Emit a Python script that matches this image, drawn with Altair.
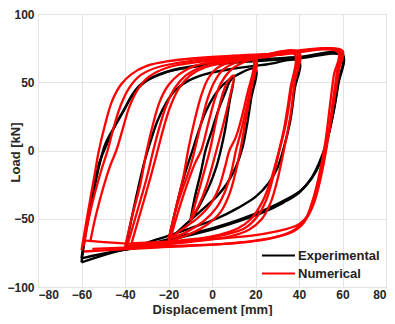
import altair as alt
import pandas as pd

# ---------- data (x = displacement mm, y = load kN) ----------
# Numerical (red) loops, each cycle: ascending branch then descending branch
NUM_60 = [
    [(-60, -73), (-57, -45), (-54, -18), (-52, 0), (-49, 20), (-46, 36), (-42, 48), (-37, 56), (-30, 62),
     (-20, 65.5), (0, 68.5), (30, 71), (60, 73),
     (58.5, 60), (57, 45), (55, 25), (53, 5), (50, -20), (47, -38), (44, -48), (40, -54), (33, -58),
     (20, -62), (0, -65), (-30, -68.5), (-58, -66)],
    [(-59, -70), (-56, -45), (-51, -15), (-48, 0), (-45, 18), (-42, 33), (-38, 46), (-33, 55), (-25, 61),
     (-10, 65.5), (20, 69.5), (59, 72.5),
     (57.5, 58), (55.5, 35), (53.5, 12), (51, -10), (48, -30), (45, -45), (41, -55), (35, -61),
     (20, -66), (0, -69), (-30, -71.5), (-59, -74)],
    [(-56, -67), (-53, -45), (-47, -12), (-44, 0), (-41, 16), (-38, 32), (-34, 45), (-29, 54), (-20, 61),
     (0, 66), (30, 70), (58, 72),
     (56, 55), (54, 30), (52, 5), (49, -20), (46, -38), (43, -50), (38, -58), (28, -64),
     (10, -68), (-20, -70), (-55, -72)],
]
NUM_40 = [
    [(-40, -71), (-37, -50), (-33, -25), (-30, 0), (-27, 20), (-24, 36), (-20, 48), (-15, 56), (-8, 62),
     (5, 66), (20, 69), (40, 72),
     (38, 50), (36, 25), (33, 0), (30, -22), (27, -38), (23, -50), (17, -58), (8, -63), (-5, -66),
     (-20, -68.5), (-40, -71)],
    [(-39, -70), (-35, -48), (-30, -20), (-27, 0), (-24, 18), (-21, 33), (-17, 46), (-12, 55), (-5, 61),
     (8, 65.5), (22, 68.5), (39, 71),
     (37, 50), (34, 20), (31, 0), (28, -20), (25, -36), (21, -48), (15, -57), (5, -62), (-10, -66),
     (-25, -68), (-39, -70)],
    [(-37, -68), (-33, -46), (-28, -18), (-25, 0), (-22, 18), (-19, 33), (-15, 46), (-10, 55), (-3, 61),
     (10, 65.5), (25, 68.5), (38, 70.5),
     (36, 45), (33, 15), (30, -5), (27, -22), (23, -38), (18, -50), (12, -57), (0, -63), (-15, -66),
     (-37, -68)],
]
NUM_20 = [
    [(-20, -67), (-17, -45), (-13, -18), (-11, 0), (-8, 22), (-5, 40), (-2, 52), (2, 60), (8, 64.5), (20, 68),
     (18, 45), (15, 18), (13, 0), (11, -15), (8, -32), (4, -45), (-2, -54), (-10, -61), (-20, -67)],
    [(-20, -65), (-16, -40), (-10, -12), (-8, 0), (-5, 20), (-2, 38), (1, 50), (5, 59), (11, 64.5), (20, 67),
     (17, 40), (13, 12), (11, 0), (9, -15), (6, -30), (2, -42), (-4, -52), (-12, -60), (-20, -65)],
    [(-19, -64), (-15, -42), (-8, -10), (-5, 0), (-2, 18), (1, 36), (4, 49), (8, 58), (13, 63.5), (19, 66),
     (16, 40), (11, 10), (8, 0), (6, -12), (3, -28), (-1, -40), (-7, -50), (-14, -58), (-19, -64)],
]
NUM_10 = [
    [(-10, -52), (-7, -35), (-3, -12), (-1, 0), (1, 15), (3, 30), (5, 42), (7, 50), (10, 55),
     (8, 38), (5, 18), (2, 0), (0, -12), (-3, -28), (-6, -40), (-10, -52)],
]

# Experimental (black) loops
EXP_60 = [
    [(-60, -82), (-58, -60), (-55, -35), (-52, -12), (-49, 5), (-45, 17), (-41, 28), (-37, 40), (-33, 48),
     (-27, 54), (-20, 58), (-5, 62), (20, 65.5), (40, 67.5), (60, 69.5),
     (58, 50), (56, 30), (53, 8), (50, -8), (46, -20), (41, -29), (34, -36), (25, -43), (12, -51),
     (0, -57), (-15, -63), (-30, -69), (-45, -74.5), (-60, -82)],
    [(-60, -79), (-58, -58), (-55, -33), (-52, -10), (-48, 6), (-44, 20), (-40, 31), (-36, 42), (-31, 50),
     (-25, 55), (-18, 59), (-3, 63), (20, 66.5), (40, 68.5), (60, 70.5),
     (58, 48), (55.5, 25), (52.5, 5), (49, -10), (45, -22), (40, -31), (33, -38), (24, -45), (12, -52),
     (0, -58), (-15, -64), (-30, -70), (-45, -74), (-60, -79)],
]
EXP_40 = [
    [(-40, -73), (-37, -50), (-34, -28), (-31, -8), (-28, 8), (-25, 22), (-21, 35), (-17, 44), (-11, 51),
     (-3, 56), (10, 60), (25, 63), (40, 65.5),
     (38, 45), (36, 22), (33, 2), (30, -13), (26, -24), (20, -34), (12, -42), (2, -50), (-10, -57),
     (-25, -65), (-40, -73)],
]
EXP_20 = [
    [(-20, -66), (-17, -45), (-13, -20), (-9, 0), (-6, 15), (-3, 28), (1, 40), (5, 48), (10, 54), (20, 60),
     (18, 38), (16, 18), (14, 2), (11, -12), (7, -24), (2, -34), (-5, -44), (-12, -54), (-20, -66)],
]
EXP_10 = [
    [(-10, -52), (-8, -35), (-5, -15), (-3, 0), (0, 15), (3, 30), (6, 42), (8, 50), (10, 54),
     (8, 35), (6, 15), (4, 0), (2, -12), (-1, -25), (-5, -38), (-10, -52)],
]

SERIES = ["Experimental", "Numerical"]
COLORS = ["#000000", "#ff0000"]
X_TICKS = [-80, -60, -40, -20, 0, 20, 40, 60, 80]
Y_TICKS = [-100, -50, 0, 50, 100]


def build(name, groups):
    rows = []
    k = 0
    for loops in groups:
        for cyc in loops:
            for i, (x, y) in enumerate(cyc):
                rows.append({"series": name, "loop": f"{name}{k}", "i": i, "disp": x, "load": y})
            k += 1
    return pd.DataFrame(rows)


exp_df = build("Experimental", [EXP_60, EXP_40, EXP_20, EXP_10])
num_df = build("Numerical", [NUM_60, NUM_40, NUM_20, NUM_10])

color = alt.Color(
    "series:N",
    scale=alt.Scale(domain=SERIES, range=COLORS),
    legend=alt.Legend(
        title=None,
        orient="none",
        legendX=234,
        legendY=235,
        symbolType="M-3,0H3",
        symbolSize=121,
        symbolStrokeWidth=2,
        labelOffset=13,
        labelFontSize=13,
        labelFont="Liberation Sans",
        labelFontWeight="bold",
        labelColor="#222222",
        rowPadding=4,
        padding=0,
    ),
)

x = alt.X(
    "disp:Q",
    scale=alt.Scale(domain=[-80, 80], nice=False, zero=False),
    axis=alt.Axis(values=X_TICKS, title="Displacement [mm]", ticks=False, labelPadding=2,
                  titleY=26, titleBaseline="alphabetic"),
)
y = alt.Y(
    "load:Q",
    scale=alt.Scale(domain=[-100, 100], nice=False, zero=False),
    axis=alt.Axis(values=Y_TICKS, title="Load [kN]", ticks=False, labelPadding=4,
                  titleX=-16, titleY=138, titleAlign="center", titleBaseline="bottom"),
)

base_enc = dict(x=x, y=y, color=color, detail="loop:N", order="i:Q")

exp_layer = alt.Chart(exp_df).mark_line(strokeWidth=2.4, interpolate="catmull-rom").encode(**base_enc)
num_layer = alt.Chart(num_df).mark_line(strokeWidth=2.3, interpolate="catmull-rom").encode(**base_enc)

chart = (
    alt.layer(exp_layer, num_layer)
    .properties(
        width=348,
        height=273,
        autosize=alt.AutoSizeParams(type="none"),
        padding={"left": 30, "top": 6, "right": 1, "bottom": 29},
    )
    .configure_view(stroke="#a6a6a6", strokeWidth=1)
    .configure_axis(
        domain=False,
        grid=True,
        gridColor="#e4e4e4",
        labelFont="Liberation Sans",
        labelFontSize=12,
        labelFontWeight="bold",
        labelColor="#262626",
        titleFont="Liberation Sans",
        titleFontSize=13,
        titleFontWeight="bold",
        titleColor="#262626",
    )
)

chart.save("out.html", embed_options={"renderer": "svg", "actions": False})
